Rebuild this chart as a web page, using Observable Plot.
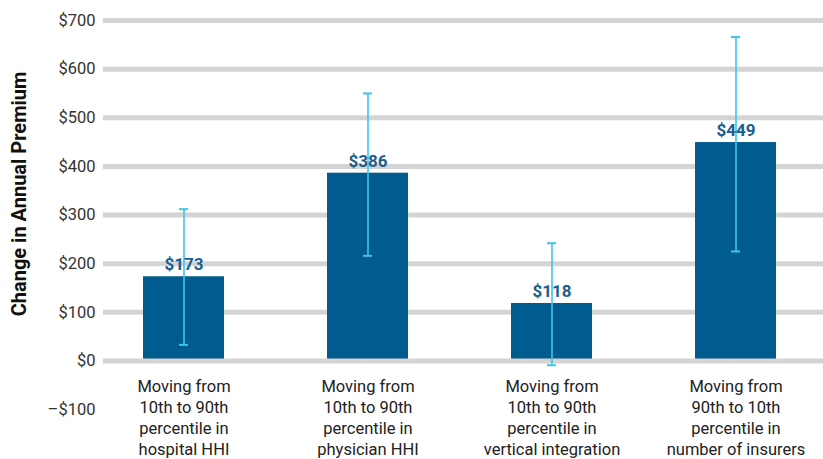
<!DOCTYPE html>
<html>
<head>
<meta charset="utf-8">
<script src="https://cdn.jsdelivr.net/npm/d3@7"></script>
<script src="https://cdn.jsdelivr.net/npm/@observablehq/plot@0.6"></script>
<style>
  html, body { margin: 0; padding: 0; background: #fff; }
  #chart svg { display: block; }
</style>
</head>
<body>
<div id="chart"></div>
<script>
const categories = [
  "Moving from\n10th to 90th\npercentile in\nhospital HHI",
  "Moving from\n10th to 90th\npercentile in\nphysician HHI",
  "Moving from\n10th to 90th\npercentile in\nvertical integration",
  "Moving from\n90th to 10th\npercentile in\nnumber of insurers"
];
const values = [173, 386, 118, 449];
const lows = [33, 216, -9, 225];
const highs = [312, 550, 242, 666];
const yTicks = [-100, 0, 100, 200, 300, 400, 500, 600, 700];
const gridTicks = [100, 200, 300, 400, 500, 600, 700];
const yTitle = "Change in Annual Premium";

const data = categories.map((c, i) => ({cat: c, value: values[i], lo: lows[i], hi: highs[i]}));
const money = d => (d < 0 ? "–$" + Math.abs(d) : "$" + d);

const chart = Plot.plot({
  width: 823,
  height: 459,
  marginTop: 20,
  marginBottom: 50,
  marginLeft: 103,
  marginRight: 0,
  style: {fontFamily: "Roboto, 'DejaVu Sans', sans-serif", color: "#222", background: "#fff"},
  x: {domain: categories, range: [90, 828.8], paddingInner: 0.5615, paddingOuter: 0.281, axis: null},
  y: {domain: [-100, 700], axis: null},
  marks: [
    Plot.ruleY(gridTicks, {stroke: "#d4d4d4", strokeWidth: 5}),
    Plot.barY(data, {x: "cat", y: "value", fill: "#005b8e"}),
    Plot.ruleY([0], {stroke: "#d4d4d4", strokeWidth: 5}),
    Plot.ruleX(data, {x: "cat", y1: "lo", y2: "hi", stroke: "#3fc4ef", strokeWidth: 1.6}),
    Plot.tickY(data, {x: "cat", y: "lo", stroke: "#3fc4ef", strokeWidth: 2, insetLeft: 36, insetRight: 36}),
    Plot.tickY(data, {x: "cat", y: "hi", stroke: "#3fc4ef", strokeWidth: 2, insetLeft: 36, insetRight: 36}),
    Plot.text(data, {x: "cat", y: "value", text: d => money(d.value), dy: -12, lineAnchor: "middle",
      fill: "#1a5f8f", fontSize: 17, fontWeight: "bold"}),
    Plot.axisY(yTicks, {tickSize: 0, tickPadding: 8, tickFormat: money, fontSize: 16.5, fill: "#333", label: null}),
    Plot.axisX({tickSize: 0, tickPadding: 0, dy: -33, lineHeight: 1.29, fontSize: 16.5, fill: "#222", label: null}),
    Plot.text([yTitle], {frameAnchor: "left", textAnchor: "middle", dx: -84, dy: -21, rotate: -90, fontSize: 20,
      fontWeight: "bold", fill: "#111", lineAnchor: "middle"})
  ]
});
document.getElementById("chart").appendChild(chart);
</script>
</body>
</html>
